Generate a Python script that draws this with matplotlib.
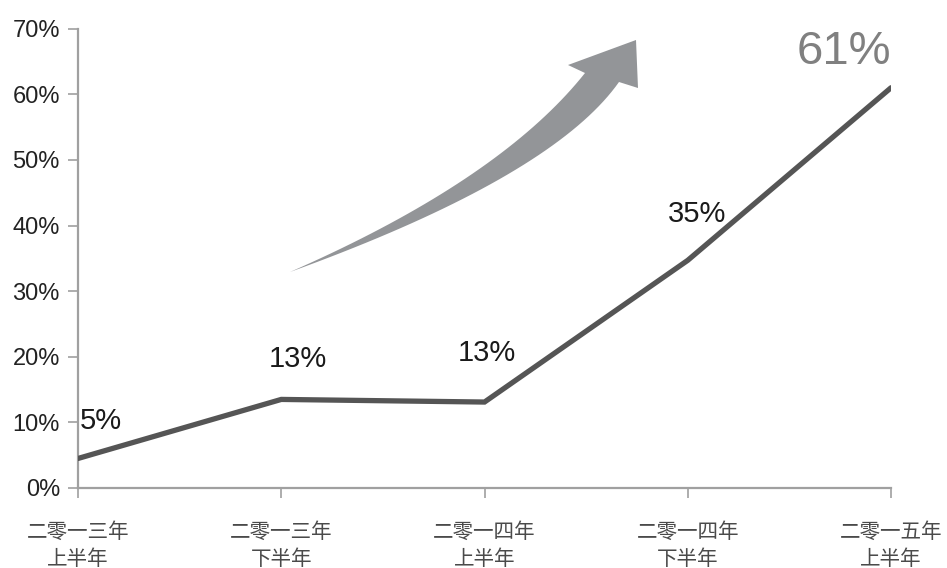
import numpy as np
import matplotlib
matplotlib.use("Agg")
import matplotlib.pyplot as plt
from matplotlib.patches import Polygon

categories = ["二零一三年\n上半年", "二零一三年\n下半年", "二零一四年\n上半年",
              "二零一四年\n下半年", "二零一五年\n上半年"]
values = [4.5, 13.5, 13.1, 34.7, 61.0]
value_labels = ["5%", "13%", "13%", "35%", "61%"]
yticks = [0, 10, 20, 30, 40, 50, 60, 70]
ytick_labels = [f"{v}%" for v in yticks]

W, H = 947, 568
fig = plt.figure(figsize=(W / 100, H / 100), dpi=100)
ax = fig.add_axes([78 / W, 1 - 488 / H, (891 - 78) / W, (488 - 28.7) / H])

x = np.arange(len(categories))
ax.plot(x, values, color="#555555", lw=3.8, solid_capstyle="round",
        solid_joinstyle="miter", zorder=3)

ax.set_xlim(0, len(categories) - 1)
ax.set_ylim(0, 70)
ax.set_yticks(yticks)
ax.set_yticklabels(ytick_labels, fontsize=17, family="Liberation Sans", color="#222222")
ax.set_xticks(x)
ax.set_xticklabels(categories, fontsize=14.8,
                   family=["Noto Sans CJK SC", "DejaVu Sans"], color="#4a4a4a",
                   linespacing=1.25, fontweight="light")
for s in ["top", "right"]:
    ax.spines[s].set_visible(False)
for s in ["left", "bottom"]:
    ax.spines[s].set_color("#a0a0a0")
    ax.spines[s].set_linewidth(1.6)
ax.tick_params(axis="y", length=7, width=1.2, color="#a0a0a0", pad=6)
ax.tick_params(axis="x", length=7, width=1.2, color="#a0a0a0", pad=17)

# value labels (offsets in pixels from each point)
offsets = [(2, 37, "left"), (17, 40, "center"), (2, 49, "center"),
           (9, 46, "center"), (0, 36, "right")]
for i, (lab, (dx, dy, ha)) in enumerate(zip(value_labels, offsets)):
    last = i == len(value_labels) - 1
    ax.annotate(lab, (x[i], values[i]), xytext=(dx, dy), textcoords="offset pixels",
                ha=ha, va="center", family="Liberation Sans",
                fontsize=34 if last else 21,
                color="#808080" if last else "#1a1a1a", zorder=4,
                annotation_clip=False)

# decorative curved arrow (figure pixel coordinates)
def qbez(p0, p1, p2, n=40):
    t = np.linspace(0, 1, n)[:, None]
    p0, p1, p2 = map(np.array, (p0, p1, p2))
    return (1 - t) ** 2 * p0 + 2 * (1 - t) * t * p1 + t ** 2 * p2

upper = qbez((290, 272), (500, 180), (585, 73))
lower = qbez((619, 82), (552, 177), (290, 272))
head = np.array([(568, 65), (636, 40), (638, 88)])
pts = np.vstack([upper, head, lower])
pts_fig = np.column_stack([pts[:, 0] / W, 1 - pts[:, 1] / H])
fig.patches.append(Polygon(pts_fig, closed=True, transform=fig.transFigure,
                           facecolor="#939598", edgecolor="none"))

fig.savefig("out.png", dpi=100, facecolor="white")
